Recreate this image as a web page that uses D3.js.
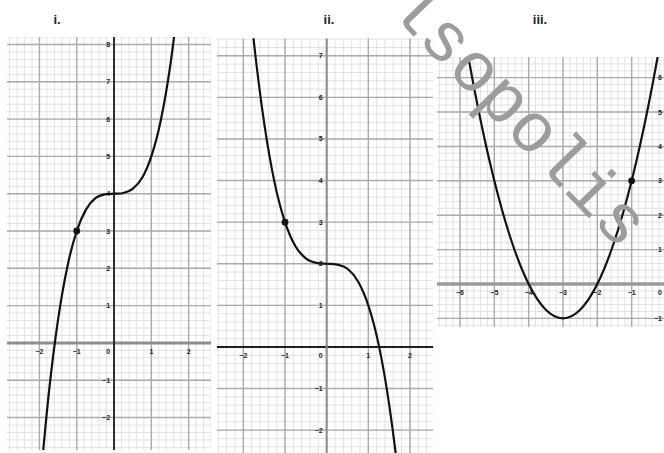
<!DOCTYPE html>
<html>
<head>
<meta charset="utf-8">
<script src="https://cdn.jsdelivr.net/npm/d3@7"></script>
<style>
  html, body { margin: 0; padding: 0; background: #fff; }
  svg { display: block; }
</style>
</head>
<body>
<svg id="chart" width="664" height="453"></svg>
<script>
// ---- data -------------------------------------------------------------
const titles = ["i.", "ii.", "iii."];

// graph i: sampled points of the curve
const curveX1 = [-2, -1.75, -1.5, -1.25, -1, -0.75, -0.5, -0.25, 0, 0.25, 0.5, 0.75, 1, 1.25, 1.5, 1.75];
const curveY1 = [-4, -1.36, 0.63, 2.05, 3, 3.58, 3.88, 3.98, 4, 4.02, 4.13, 4.42, 5, 5.95, 7.38, 9.36];
const marked1 = [-1, 3];
const xTicks1 = [-2, -1, 0, 1, 2];
const yTicks1 = [-2, -1, 1, 2, 3, 4, 5, 6, 7, 8];

// graph ii
const curveX2 = [-2, -1.75, -1.5, -1.25, -1, -0.75, -0.5, -0.25, 0, 0.25, 0.5, 0.75, 1, 1.25, 1.5, 1.75, 2];
const curveY2 = [10, 7.36, 5.38, 3.95, 3, 2.42, 2.13, 2.02, 2, 1.98, 1.88, 1.58, 1, 0.05, -1.38, -3.36, -6];
const marked2 = [-1, 3];
const xTicks2 = [-2, -1, 0, 1, 2];
const yTicks2 = [-2, -1, 1, 2, 3, 4, 5, 6, 7];

// graph iii
const curveX3 = [-7, -6.5, -6, -5.5, -5, -4.5, -4, -3.5, -3, -2.5, -2, -1.5, -1, -0.5, 0, 0.5];
const curveY3 = [15, 11.25, 8, 5.25, 3, 1.25, 0, -0.75, -1, -0.75, 0, 1.25, 3, 5.25, 8, 11.25];
const marked3 = [-1, 3];
const xTicks3 = [-6, -5, -4, -3, -2, -1, 0];
const yTicks3 = [-1, 1, 2, 3, 4, 5, 6];

const watermark = "lsopolis";

// ---- drawing ----------------------------------------------------------
const svg = d3.select("#chart");

function drawPanel(cfg) {
  const g = svg.append("g");
  const x = d3.scaleLinear().domain(cfg.xDomain).range(cfg.xRange);
  const y = d3.scaleLinear().domain(cfg.yDomain).range(cfg.yRange);
  const [x0, x1] = cfg.xRange, [y1, y0] = cfg.yRange;

  const clipId = "clip" + cfg.id;
  svg.append("clipPath").attr("id", clipId)
    .append("rect").attr("x", x0).attr("y", y0).attr("width", x1 - x0).attr("height", y1 - y0);

  const grid = g.append("g").attr("clip-path", `url(#${clipId})`);
  const minorX = d3.range(Math.ceil(cfg.xDomain[0] * 5), Math.floor(cfg.xDomain[1] * 5) + 1).map(k => k / 5);
  const minorY = d3.range(Math.ceil(cfg.yDomain[0] * 5), Math.floor(cfg.yDomain[1] * 5) + 1).map(k => k / 5);
  const majorX = minorX.filter(v => Math.abs(v - Math.round(v)) < 1e-9);
  const majorY = minorY.filter(v => Math.abs(v - Math.round(v)) < 1e-9);

  grid.selectAll(".mx").data(minorX).join("line")
    .attr("x1", d => x(d)).attr("x2", d => x(d)).attr("y1", y0).attr("y2", y1)
    .attr("stroke", "#e2e2e2").attr("stroke-width", 1);
  grid.selectAll(".my").data(minorY).join("line")
    .attr("y1", d => y(d)).attr("y2", d => y(d)).attr("x1", x0).attr("x2", x1)
    .attr("stroke", "#e2e2e2").attr("stroke-width", 1);
  grid.append("g").selectAll("line").data(majorX).join("line")
    .attr("x1", d => x(d)).attr("x2", d => x(d)).attr("y1", y0).attr("y2", y1)
    .attr("stroke", "#ababab").attr("stroke-width", 1.4);
  grid.append("g").selectAll("line").data(majorY).join("line")
    .attr("y1", d => y(d)).attr("y2", d => y(d)).attr("x1", x0).attr("x2", x1)
    .attr("stroke", "#ababab").attr("stroke-width", 1.4);

  // axes
  grid.append("line").attr("x1", x0).attr("x2", x1).attr("y1", y(0)).attr("y2", y(0))
    .attr("stroke", cfg.xAxisColor).attr("stroke-width", cfg.xAxisWidth);
  grid.append("line").attr("x1", x(0)).attr("x2", x(0)).attr("y1", y0).attr("y2", y1)
    .attr("stroke", cfg.yAxisColor).attr("stroke-width", cfg.yAxisWidth);

  // tick labels
  const lab = g.append("g")
    .style("font-family", "Liberation Sans, Arial, sans-serif")
    .style("font-size", "7px").style("font-weight", "bold").attr("fill", "#222");
  lab.selectAll(".xl").data(cfg.xTicks).join("text")
    .attr("x", d => d === 0 ? x(0) - 4 : x(d))
    .attr("y", y(0) + 11)
    .attr("text-anchor", d => d === 0 ? "end" : "middle")
    .text(d => d < 0 ? "\u2212" + Math.abs(d) : d);
  lab.selectAll(".yl").data(cfg.yTicks).join("text")
    .attr("x", x(0) - 4)
    .attr("y", d => y(d) + 2.5)
    .attr("text-anchor", "end")
    .text(d => d < 0 ? "\u2212" + Math.abs(d) : d);

  // curve
  const pts = cfg.cx.map((v, i) => [v, cfg.cy[i]]);
  const line = d3.line().x(d => x(d[0])).y(d => y(d[1])).curve(d3.curveCardinal.tension(0));
  g.append("path").attr("clip-path", `url(#${clipId})`)
    .attr("d", line(pts)).attr("fill", "none")
    .attr("stroke", "#111").attr("stroke-width", 2.2);

  g.append("circle").attr("cx", x(cfg.mark[0])).attr("cy", y(cfg.mark[1]))
    .attr("r", 3.4).attr("fill", "#111");

  // title
  svg.append("text").attr("x", cfg.titleX).attr("y", 24)
    .attr("text-anchor", "middle")
    .style("font-family", "Liberation Sans, Arial, sans-serif")
    .style("font-size", "13px").style("font-weight", "bold")
    .attr("fill", "#1c2533").text(cfg.title);
}

drawPanel({
  id: 1, title: titles[0], titleX: 57,
  xDomain: [-2.87, 2.6], xRange: [7, 211],
  yDomain: [-2.87, 8.2], yRange: [450, 37],
  cx: curveX1, cy: curveY1, mark: marked1, xTicks: xTicks1, yTicks: yTicks1,
  xAxisColor: "#8e8e8e", xAxisWidth: 3, yAxisColor: "#1e1e1e", yAxisWidth: 1.8
});
drawPanel({
  id: 2, title: titles[1], titleX: 329,
  xDomain: [-2.64, 2.56], xRange: [216.7, 433.3],
  yDomain: [-2.55, 7.42], yRange: [453, 38.3],
  cx: curveX2, cy: curveY2, mark: marked2, xTicks: xTicks2, yTicks: yTicks2,
  xAxisColor: "#1e1e1e", xAxisWidth: 2, yAxisColor: "#8e8e8e", yAxisWidth: 2
});
drawPanel({
  id: 3, title: titles[2], titleX: 540,
  xDomain: [-6.67, 0.05], xRange: [437, 667.7],
  yDomain: [-1.25, 6.6], yRange: [327, 57],
  cx: curveX3, cy: curveY3, mark: marked3, xTicks: xTicks3, yTicks: yTicks3,
  xAxisColor: "#9a9a9a", xAxisWidth: 3.5, yAxisColor: "#8e8e8e", yAxisWidth: 2
});

// diagonal watermark text
svg.append("text")
  .attr("transform", "translate(504,130) rotate(46)")
  .attr("text-anchor", "middle")
  .style("font-family", "Liberation Mono, monospace")
  .style("font-size", "70px")
  .attr("fill", "#9c9c9c")
  .text(watermark);
</script>
</body>
</html>
